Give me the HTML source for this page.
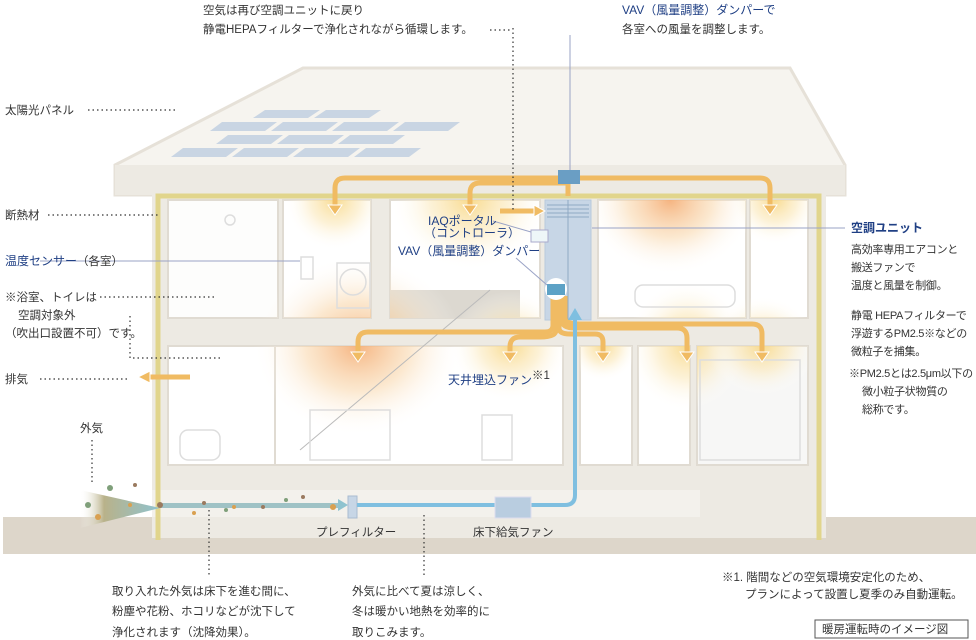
<!DOCTYPE html>
<html><head><meta charset="utf-8"><style>
body{margin:0;background:#fff;}
svg{display:block;font-family:"Liberation Sans","Noto Sans CJK JP",sans-serif;}
.t{font-size:11.5px;fill:#333;}
.r{font-size:11px;fill:#333;letter-spacing:-0.3px;}
.b{font-size:12px;fill:#1f3f84;}
</style></head><body>
<svg width="976" height="640" viewBox="0 0 976 640" xmlns="http://www.w3.org/2000/svg">
<defs>
<radialGradient id="glowO" cx="50%" cy="50%" r="50%"><stop offset="0" stop-color="#f5b07a" stop-opacity=".95"/><stop offset=".5" stop-color="#f9d9b0" stop-opacity=".6"/><stop offset="1" stop-color="#fff" stop-opacity="0"/></radialGradient>
<radialGradient id="glowY" cx="50%" cy="50%" r="50%"><stop offset="0" stop-color="#f8d98a" stop-opacity=".95"/><stop offset=".5" stop-color="#fbe9bd" stop-opacity=".6"/><stop offset="1" stop-color="#fff" stop-opacity="0"/></radialGradient>
<linearGradient id="air" x1="0" x2="1"><stop offset="0" stop-color="#fff" stop-opacity="0"/><stop offset=".3" stop-color="#b9b28a"/><stop offset="1" stop-color="#8fc3cf"/></linearGradient>
<clipPath id="rc">
<rect x="168" y="200" width="110" height="118"/>
<rect x="283" y="200" width="88" height="118"/>
<rect x="390" y="200" width="150" height="118"/>
<rect x="598" y="200" width="148" height="118"/>
<rect x="750" y="200" width="58" height="118"/>
<rect x="168" y="346" width="110" height="119"/>
<rect x="275" y="346" width="288" height="119"/>
<rect x="580" y="346" width="52" height="119"/>
<rect x="638" y="346" width="52" height="119"/>
<rect x="697" y="346" width="111" height="119"/>
</clipPath>
</defs>
<rect x="3" y="517" width="973" height="37" fill="#ddd6ca"/>
<polygon points="115,165 303,68 790,68 845,165 845,195 115,195" fill="#f6f4ef" stroke="#e6e1d8" stroke-width="3"/>
<rect x="115" y="165" width="730" height="30" fill="#edeae3"/>
<g fill="#c9d5e3">
<polygon points="265,110 320,110 308,118 253,118"/><polygon points="326,110 381,110 369,118 314,118"/>
<polygon points="222,122 277,122 265,131 210,131"/><polygon points="283,122 338,122 326,131 271,131"/><polygon points="344,122 399,122 387,131 332,131"/><polygon points="405,122 460,122 448,131 393,131"/>
<polygon points="228,135 283,135 271,144 216,144"/><polygon points="289,135 344,135 332,144 277,144"/><polygon points="350,135 405,135 393,144 338,144"/>
<polygon points="183,148 238,148 226,157 171,157"/><polygon points="244,148 299,148 287,157 232,157"/><polygon points="305,148 360,148 348,157 293,157"/><polygon points="366,148 421,148 409,157 354,157"/>
</g>
<rect x="152" y="193" width="674" height="345" fill="#edeae3"/>
<rect x="152" y="490" width="674" height="27" fill="#f3f1ec"/>
<rect x="700" y="490" width="126" height="48" fill="#edeae3"/>
<g fill="#fff" stroke="#e0dbd2" stroke-width="2">
<rect x="168" y="200" width="110" height="118" fill="#fdfdfc"/>
<rect x="283" y="200" width="88" height="118"/>
<rect x="390" y="200" width="150" height="118"/>
<rect x="598" y="200" width="148" height="118"/>
<rect x="750" y="200" width="58" height="118"/>
<rect x="168" y="346" width="110" height="119"/>
<rect x="275" y="346" width="288" height="119"/>
<rect x="580" y="346" width="52" height="119"/>
<rect x="638" y="346" width="52" height="119"/>
<rect x="697" y="346" width="111" height="119" fill="#f7f7f6"/>
</g>
<rect x="390" y="290" width="130" height="28" fill="#dcd8d0"/>
<g clip-path="url(#rc)">
<ellipse cx="335" cy="200" rx="50" ry="50" fill="url(#glowY)"/>
<ellipse cx="470" cy="200" rx="80" ry="70" fill="url(#glowY)"/>
<ellipse cx="670" cy="200" rx="85" ry="75" fill="url(#glowO)"/>
<ellipse cx="775" cy="200" rx="45" ry="45" fill="url(#glowY)"/>
<ellipse cx="358" cy="346" rx="105" ry="90" fill="url(#glowO)"/>
<ellipse cx="510" cy="346" rx="60" ry="55" fill="url(#glowY)"/>
<ellipse cx="603" cy="346" rx="35" ry="35" fill="url(#glowY)"/>
<ellipse cx="687" cy="346" rx="60" ry="65" fill="url(#glowY)"/>
<ellipse cx="762" cy="346" rx="55" ry="50" fill="url(#glowY)"/>
</g>
<line x1="300" y1="450" x2="490" y2="290" stroke="#bbb" stroke-width="1"/>
<g fill="none" stroke="#ddd" stroke-width="1.5">
<circle cx="230" cy="220" r="5"/><rect x="301" y="257" width="12" height="22"/><rect x="337" y="263" width="33" height="45"/><circle cx="353" cy="282" r="13"/>
<rect x="635" y="285" width="100" height="22" rx="8"/><rect x="180" y="430" width="40" height="30" rx="8"/><rect x="482" y="415" width="30" height="45"/>
<rect x="310" y="410" width="80" height="50"/><rect x="700" y="360" width="100" height="100"/>
</g>
<path d="M158,540 V196 H819 V540" fill="none" stroke="#e1d58c" stroke-width="5"/>
<rect x="545" y="200" width="46" height="120" fill="#c7d6e6" stroke="#b8c9dc"/>
<g stroke="#8fa9c4" stroke-width="1"><line x1="547" y1="205" x2="589" y2="205"/><line x1="547" y1="209" x2="589" y2="209"/><line x1="547" y1="213" x2="589" y2="213"/><line x1="547" y1="217" x2="589" y2="217"/><line x1="568" y1="200" x2="568" y2="320"/></g>
<g fill="none" stroke="#f0bb63" stroke-width="5" stroke-linejoin="round">
<path d="M568,178 H345 Q335,178 335,188 V207"/>
<path d="M568,183 H480 Q470,183 470,193 V207"/>
<path d="M568,178 H760 Q770,178 770,188 V207"/>
<path d="M568,183 V196"/>
<path d="M500,211 H535"/>
<path d="M553,296 V325 Q553,332 545,332 H368 Q358,332 358,342 V354"/>
<path d="M556,296 V330 Q556,337 540,337 H520 Q510,337 510,347 V354"/>
<path d="M559,296 V328 Q559,334 570,334 H595 Q603,334 603,342 V354"/>
<path d="M562,296 V320 Q562,328 575,328 H677 Q687,328 687,338 V354"/>
<path d="M565,296 V318 Q565,324 580,324 H752 Q762,324 762,334 V354"/>
<path d="M190,377 H150"/>
</g>
<g fill="#f0bb63" stroke="#fff" stroke-width="1">
<polygon points="328,205 342,205 335,215"/><polygon points="463,205 477,205 470,215"/><polygon points="763,205 777,205 770,215"/>
<polygon points="534,205 545,211 534,217"/>
<polygon points="351,352 365,352 358,362"/><polygon points="503,352 517,352 510,362"/><polygon points="596,352 610,352 603,362"/><polygon points="680,352 694,352 687,362"/><polygon points="755,352 769,352 762,362"/>
<polygon points="150,371 138,377 150,383"/>
</g>
<rect x="558" y="170" width="22" height="14" fill="#6a9ec4"/>
<circle cx="556" cy="289" r="11" fill="#fff"/><rect x="547" y="284" width="18" height="11" fill="#5da2c6"/>
<rect x="531" y="230" width="17" height="12" fill="#eef6f8" stroke="#aac"/>
<polygon points="80,490 160,508 80,528" fill="url(#air)"/>
<rect x="160" y="503" width="180" height="5" fill="#9fc2c5"/>
<polygon points="338,499 348,505 338,511" fill="#8fc3cf"/>
<g fill="#9a7a5f"><circle cx="135" cy="485" r="2"/><circle cx="204" cy="503" r="2"/><circle cx="263" cy="507" r="2"/><circle cx="303" cy="497" r="2"/><circle cx="160" cy="505" r="3"/></g>
<g fill="#7f9f7a"><circle cx="110" cy="488" r="3"/><circle cx="88" cy="505" r="3"/><circle cx="226" cy="510" r="2"/><circle cx="286" cy="500" r="2"/></g>
<g fill="#d9a050"><circle cx="98" cy="517" r="3"/><circle cx="130" cy="505" r="2"/><circle cx="194" cy="513" r="2"/><circle cx="234" cy="507" r="2"/><circle cx="333" cy="507" r="3"/></g>
<rect x="348" y="496" width="9" height="22" fill="#c7d6e6" stroke="#aabcd0"/>
<path d="M357,505 H565 Q575,505 575,495 V318" fill="none" stroke="#7fbfe0" stroke-width="4"/>
<polygon points="568,320 575,308 582,320" fill="#7fbfe0"/>
<rect x="495" y="497" width="36" height="21" fill="#b9cde0" stroke="#dde"/>
<g stroke="#333" stroke-width="1.2" stroke-dasharray="1.5,3" fill="none">
<path d="M513,28 V210"/><path d="M88,110 H175"/><path d="M48,215 H160"/><path d="M100,297 H215"/><path d="M130,316 V358 H220"/><path d="M40,379 H130"/><path d="M92,440 V483"/><path d="M209,510 V575"/><path d="M424,515 V575"/><path d="M490,30 H510"/>
</g>
<g stroke="#9aa3c6" stroke-width="1"><line x1="570" y1="35" x2="570" y2="170"/><line x1="40" y1="261" x2="300" y2="261"/><line x1="592" y1="228" x2="845" y2="228"/><line x1="493" y1="221" x2="531" y2="232"/><line x1="516" y1="258" x2="547" y2="285"/></g>
<text x="203" y="14" class="t">空気は再び空調ユニットに戻り</text>
<text x="203" y="33" class="t">静電HEPAフィルターで浄化されながら循環します。</text>
<text x="622" y="14" class="b">VAV（風量調整）ダンパーで</text>
<text x="622" y="33" class="t">各室への風量を調整します。</text>
<text x="5" y="114" class="t">太陽光パネル</text>
<text x="5" y="219" class="t">断熱材</text>
<text x="5" y="265" class="b">温度センサー<tspan class="t">（各室）</tspan></text>
<text x="5" y="301" class="t">※浴室、トイレは</text>
<text x="18" y="319" class="t">空調対象外</text>
<text x="5" y="337" class="t">（吹出口設置不可）です。</text>
<text x="5" y="383" class="t">排気</text>
<text x="80" y="432" class="t">外気</text>
<text x="428" y="225" class="b" font-size="11">IAQポータル</text>
<text x="424" y="237" class="b" font-size="11">（コントローラ）</text>
<text x="398" y="255" class="b" font-size="11.5">VAV（風量調整）ダンパー</text>
<text x="448" y="384" class="b">天井埋込ファン<tspan class="t" font-size="9" dy="-5">※1</tspan></text>
<text x="316" y="536" class="t">プレフィルター</text>
<text x="473" y="536" class="t">床下給気ファン</text>
<text x="851" y="232" class="b" font-weight="bold">空調ユニット</text>
<text x="851" y="253" class="r">高効率専用エアコンと</text>
<text x="851" y="271" class="r">搬送ファンで</text>
<text x="851" y="289" class="r">温度と風量を制御。</text>
<text x="851" y="319" class="r">静電 HEPAフィルターで</text>
<text x="851" y="337" class="r">浮遊するPM2.5※などの</text>
<text x="851" y="355" class="r">微粒子を捕集。</text>
<text x="849" y="377" class="r">※PM2.5とは2.5μm以下の</text>
<text x="862" y="395" class="r">微小粒子状物質の</text>
<text x="862" y="413" class="r">総称です。</text>
<text x="112" y="595" class="t">取り入れた外気は床下を進む間に、</text>
<text x="112" y="615" class="t">粉塵や花粉、ホコリなどが沈下して</text>
<text x="112" y="636" class="t">浄化されます（沈降効果）。</text>
<text x="352" y="595" class="t">外気に比べて夏は涼しく、</text>
<text x="352" y="615" class="t">冬は暖かい地熱を効率的に</text>
<text x="352" y="636" class="t">取りこみます。</text>
<text x="722" y="581" class="t">※1. 階間などの空気環境安定化のため、</text>
<text x="745" y="598" class="t">プランによって設置し夏季のみ自動運転。</text>
<rect x="815" y="620" width="153" height="18" fill="#fff" stroke="#555"/>
<text x="822" y="633" class="t" font-size="10.5">暖房運転時のイメージ図</text>
</svg>
</body></html>
